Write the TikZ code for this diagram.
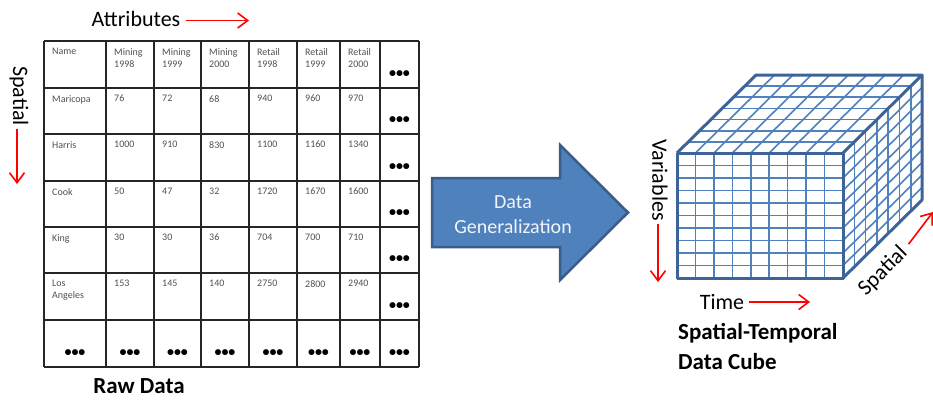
\documentclass[tikz,border=0pt]{standalone}
\usepackage{fontspec}
\setmainfont{Carlito}
\usetikzlibrary{arrows.meta, calc}

\definecolor{cubeblue}{HTML}{4F81BD}
\definecolor{cubeedge}{HTML}{3E6497}
\definecolor{arrowfill}{HTML}{4F81BD}
\definecolor{arrowedge}{HTML}{385D8A}
\definecolor{celltext}{HTML}{505050}

\def\colx{{44,106,154,201,249,297,340,380,419}}
\def\rowy{{41,88,134,181,227,273,320,367}}

% one row of the table: #1 row index, #2 entries
\newcommand{\tablerow}[2]{%
  \foreach \t [count=\c from 0] in {#2} {
    \pgfmathsetmacro{\cx}{\colx[\c]+8}
    \pgfmathsetmacro{\cy}{\rowy[#1]+7}
    \node[cell] (cell#1\c) at (\cx,\cy) {\t};
  }}

\begin{document}
\begin{tikzpicture}[x=1pt, y=-1pt, >={Straight Barb[length=10pt,width=15pt]}]
\tikzset{ cell/.style={anchor=north west, inner sep=0pt, align=left, text=celltext,
                       font=\fontsize{10}{12}\selectfont},
          moredots/.style={inner sep=0pt, font=\fontsize{14}{14}\selectfont\bfseries},
          axislabel/.style={inner sep=0pt, font=\fontsize{22}{22}\selectfont},
          axisarrow/.style={->, draw=red, line width=1.6pt},
          bigcaption/.style={inner sep=0pt, align=left, font=\fontsize{23}{30}\selectfont\bfseries},
          tableline/.style={draw=black!85, line width=1.3pt},
          cubegrid/.style={draw=cubeblue, line width=1.6pt},
          cubeframe/.style={draw=cubeedge, line width=3pt, line join=round} };

\useasboundingbox (0,0) rectangle (933,400);

% raw data table
\foreach \x in {44,106,154,201,249,297,340,380,419}
  \draw[tableline] (\x,41) -- (\x,367);
\foreach \y in {41,88,134,181,227,273,320,367}
  \draw[tableline] (44,\y) -- (419,\y);

\tablerow{0}{Name,{Mining\\1998},{Mining\\1999},{Mining\\2000},{Retail\\1998},{Retail\\1999},{Retail\\2000}}
\tablerow{1}{Maricopa,76,72,68,940,960,970}
\tablerow{2}{Harris,1000,910,830,1100,1160,1340}
\tablerow{3}{Cook,50,47,32,1720,1670,1600}
\tablerow{4}{King,30,30,36,704,700,710}
\tablerow{5}{{Los\\Angeles},153,145,140,2750,2800,2940}

\foreach \y [count=\r from 0] in {88,134,181,227,273,320}
  \node[moredots] (more\r) at (399.5,\y-14) {•••};
\foreach \x [count=\c from 0] in {75,130,177.5,225,273,318.5,360,399.5}
  \node[moredots] (last\c) at (\x,353) {•••};

\node[axislabel] (attr) at (136,18.5) {Attributes};
\coordinate (attrtip) at (249,20.5);
\draw[axisarrow, shorten <=5pt] (attr.east |- attrtip) -- (attrtip);

\node[axislabel, rotate=-90] (spatialL) at (19,96) {Spatial};
\coordinate (spattip) at (17,184);
\draw[axisarrow, shorten <=3pt] (spatialL.east -| spattip) -- (spattip);

\node[bigcaption] (raw) at (139,386.5) {Raw Data};

% block arrow
\draw[fill=arrowfill, draw=arrowedge, line width=2.5pt, line join=miter]
  (432,178) -- (560,178) -- (560,145) -- (628,212.5) -- (560,280) -- (560,247) -- (432,247) -- cycle;
\node[align=center, text=white!92!cubeblue, font=\fontsize{20}{25}\selectfont] (gen) at (513,214.5) {Data\\Generalization};

% data cube
\coordinate (A) at (677,153);
\coordinate (B) at (843,153);
\coordinate (C) at (843,278);
\coordinate (D) at (677,278);
\coordinate (E) at ($(A)+(79,-78)$);
\coordinate (F) at ($(B)+(79,-78)$);
\coordinate (G) at ($(C)+(79,-78)$);

\fill[white] (A) -- (B) -- (C) -- (D) -- cycle;
\fill[white] (A) -- (E) -- (F) -- (B) -- cycle;
\fill[white] (B) -- (F) -- (G) -- (C) -- cycle;

\foreach \i in {1,...,8} {
  \draw[cubegrid] ($(A)!\i/9!(B)$) -- ($(D)!\i/9!(C)$);
  \draw[cubegrid] ($(A)!\i/9!(B)$) -- ($(E)!\i/9!(F)$);
}
\foreach \j in {1,...,9} {
  \draw[cubegrid] ($(A)!\j/10!(D)$) -- ($(B)!\j/10!(C)$);
  \draw[cubegrid] ($(B)!\j/10!(C)$) -- ($(F)!\j/10!(G)$);
}
\foreach \k in {1,...,6} {
  \draw[cubegrid] ($(A)!\k/7!(E)$) -- ($(B)!\k/7!(F)$);
  \draw[cubegrid] ($(B)!\k/7!(F)$) -- ($(C)!\k/7!(G)$);
}

\draw[cubeframe] (A) -- (B) -- (C) -- (D) -- cycle;
\draw[cubeframe] (A) -- (E) -- (F) -- (B);
\draw[cubeframe] (F) -- (G) -- (C);

\node[axislabel, rotate=-90] (varL) at (660,180) {Variables};
\coordinate (vartip) at (658,282);
\draw[axisarrow, shorten <=3pt] (varL.east -| vartip) -- (vartip);

\node[axislabel] (timeL) at (722,301.5) {Time};
\coordinate (timetip) at (810,302);
\draw[axisarrow, shorten <=5pt] (timeL.east |- timetip) -- (timetip);

\node[axislabel, rotate=45] (spatialR) at (883,271) {Spatial};
\coordinate (sprtip) at (933,212);
\draw[axisarrow, shorten <=7pt] (spatialR.east) -- (sprtip);

\node[bigcaption, anchor=north west] (cubecap) at (678,323) {Spatial-Temporal\\Data Cube};

\end{tikzpicture}
\end{document}
